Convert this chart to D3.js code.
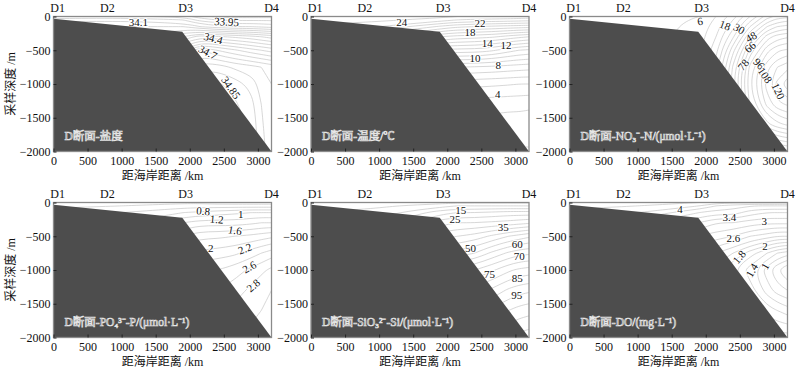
<!DOCTYPE html>
<html>
<head>
<meta charset="utf-8">
<script src="https://cdn.jsdelivr.net/npm/d3@7"></script>
<style>
  body { margin: 0; background: #fff; }
  text { font-family: "Liberation Serif", "Noto Sans CJK SC", serif; }
</style>
</head>
<body>
<svg id="chart" width="800" height="374"></svg>
<script>
// stations, axes, seabed
const stationNames = ["D1", "D2", "D3", "D4"];
const stationKm = [60, 790, 1940, 3200];
const xTicks = [0, 500, 1000, 1500, 2000, 2500, 3000];
const yTicks = [0, 500, 1000, 1500, 2000];
const seabedKm = [0, 1890, 3200];
const seabedDepth = [35, 225, 2000];

// grid the contours are traced on (columns = km, rows = depth m)
const gridKm = [0, 1000, 1900, 2150, 2400, 2650, 2900, 3050, 3200];
const gridDepth = [0, 50, 150, 300, 500, 750, 1000, 1300, 1600, 2000];

// salinity
const salinityGrid = [
    [34.00, 34.02, 33.98, 33.92, 33.89, 33.88, 33.88, 33.88, 33.88],
    [34.08, 34.09, 34.05, 33.98, 33.95, 33.94, 33.94, 33.94, 33.94],
    [34.15, 34.15, 34.15, 34.10, 34.07, 34.05, 34.05, 34.04, 34.03],
    [34.20, 34.20, 34.30, 34.38, 34.36, 34.34, 34.32, 34.30, 34.28],
    [34.30, 34.30, 34.50, 34.65, 34.60, 34.56, 34.52, 34.50, 34.48],
    [34.50, 34.50, 34.70, 34.78, 34.78, 34.74, 34.72, 34.70, 34.68],
    [34.60, 34.60, 34.80, 34.85, 34.86, 34.83, 34.78, 34.73, 34.70],
    [34.70, 34.70, 34.85, 34.87, 34.88, 34.86, 34.82, 34.75, 34.71],
    [34.75, 34.75, 34.87, 34.88, 34.88, 34.87, 34.84, 34.76, 34.71],
    [34.80, 34.80, 34.88, 34.88, 34.88, 34.87, 34.85, 34.77, 34.72]
];
const salinityLevels = [33.9, 33.95, 34, 34.05, 34.1, 34.15, 34.2, 34.25, 34.3, 34.35,
    34.4, 34.45, 34.5, 34.55, 34.6, 34.65, 34.7, 34.75, 34.8, 34.85];
const salinityLabels = [["34.1", 1245, 77, 0], ["33.95", 2542, 77, 3], ["34.4", 2346, 323, 15],
    ["34.7", 2265, 530, 28], ["34.85", 2605, 1055, 55]];

// temperature
const temperatureGrid = [
    [25.0, 24.8, 24.3, 24.0, 23.9, 23.8, 23.8, 23.7, 23.6],
    [24.6, 24.3, 23.5, 23.0, 22.8, 22.7, 22.6, 22.5, 22.4],
    [23.8, 23.0, 20.8, 20.2, 20.0, 19.8, 19.6, 19.5, 19.4],
    [22.0, 20.0, 17.0, 16.6, 16.4, 16.2, 15.6, 15.3, 15.0],
    [20.0, 16.0, 12.8, 12.6, 12.6, 12.2, 11.4, 11.0, 10.8],
    [17.0, 12.0, 8.2, 8.0, 7.9, 7.8, 7.6, 7.5, 7.4],
    [14.0, 9.0, 5.6, 5.4, 5.3, 5.2, 5.1, 5.0, 5.0],
    [11.0, 6.0, 3.6, 3.5, 3.4, 3.4, 3.3, 3.3, 3.2],
    [8.0, 4.0, 2.8, 2.7, 2.6, 2.6, 2.5, 2.5, 2.5],
    [6.0, 3.0, 2.2, 2.1, 2.0, 2.0, 1.9, 1.9, 1.9]
];
const temperatureLevels = [2, 3, 4, 5, 6, 7, 8, 9, 10, 11, 12, 13, 14, 15, 16, 17, 18,
    19, 20, 21, 22, 23, 24, 25];
const temperatureLabels = [["24", 1331, 77, 0], ["22", 2481, 92, 0], ["18", 2334, 234, 0],
    ["14", 2588, 397, 0], ["12", 2862, 422, 0], ["10", 2407, 619, 0], ["8", 2749, 719, 0],
    ["4", 2741, 1153, 0]];

// nitrate
const nitrateGrid = [
    [0.5, 1, 6, 12, 21, 36, 51, 56, 58],
    [0.5, 1, 7, 13, 24, 40, 56, 62, 64],
    [1, 2, 8, 15, 28, 48, 66, 72, 74],
    [1, 2, 9, 18, 35, 60, 81, 87, 89],
    [1, 3, 10, 22, 46, 74, 94, 101, 103],
    [1, 3, 12, 27, 55, 86, 106, 114, 118],
    [1, 3, 13, 28, 58, 89, 111, 122, 130],
    [1, 3, 12, 27, 53, 85, 104, 112, 115],
    [1, 3, 10, 20, 41, 70, 88, 94, 97],
    [1, 2, 6, 12, 21, 36, 51, 56, 58]
];
const nitrateLevels = [6, 12, 18, 24, 30, 36, 42, 48, 54, 60, 66, 72, 78, 84, 90, 96,
    102, 108, 114, 120, 126];
const nitrateLabels = [["6", 1915, 71, -10], ["18", 2283, 130, 20], ["30", 2492, 181, 30],
    ["48", 2664, 304, -30], ["66", 2650, 452, -40], ["78", 2551, 714, -50],
    ["96", 2782, 699, 45], ["108", 2870, 871, 55], ["120", 3065, 1104, 65]];

// phosphate
const phosphateGrid = [
    [0.30, 0.30, 0.35, 0.35, 0.30, 0.30, 0.30, 0.30, 0.30],
    [0.35, 0.40, 0.50, 0.50, 0.50, 0.50, 0.50, 0.50, 0.50],
    [0.50, 0.60, 0.80, 0.85, 0.90, 0.95, 1.00, 1.00, 1.00],
    [0.70, 0.80, 1.20, 1.30, 1.30, 1.30, 1.35, 1.40, 1.40],
    [0.90, 1.00, 1.60, 1.75, 1.75, 1.80, 1.85, 1.90, 1.95],
    [1.10, 1.20, 2.00, 2.05, 2.10, 2.15, 2.30, 2.40, 2.50],
    [1.30, 1.40, 2.30, 2.35, 2.40, 2.50, 2.65, 2.75, 2.85],
    [1.50, 1.60, 2.50, 2.55, 2.60, 2.70, 2.85, 2.95, 3.00],
    [1.70, 1.80, 2.70, 2.75, 2.80, 2.85, 2.95, 3.00, 3.05],
    [1.90, 2.00, 2.90, 2.90, 2.95, 3.00, 3.05, 3.10, 3.10]
];
const phosphateLevels = [0.4, 0.6, 0.8, 1, 1.2, 1.4, 1.6, 1.8, 2, 2.2, 2.4, 2.6, 2.8, 3];
const phosphateLabels = [["0.8", 2199, 126, 5], ["1.2", 2396, 249, 5], ["1", 2748, 166, 0],
    ["1.6", 2664, 412, 10], ["2", 2308, 670, 0], ["2.2", 2811, 684, -20],
    ["2.6", 2874, 956, -30], ["2.8", 2933, 1227, -40]];

// silicate
const silicateGrid = [
    [2, 2, 3, 4, 4, 4, 4, 4, 4],
    [3, 4, 8, 10, 10, 10, 10, 10, 10],
    [5, 7, 18, 20, 20, 21, 22, 22, 22],
    [8, 12, 28, 30, 30, 31, 32, 33, 34],
    [12, 18, 38, 40, 42, 46, 50, 52, 54],
    [16, 24, 50, 52, 55, 61, 66, 68, 69],
    [20, 30, 64, 67, 70, 74, 79, 81, 82],
    [24, 36, 76, 79, 82, 86, 91, 93, 94],
    [28, 42, 86, 89, 92, 96, 100, 102, 103],
    [32, 48, 96, 99, 102, 106, 110, 112, 113]
];
const silicateLevels = [5, 10, 15, 20, 25, 30, 35, 40, 45, 50, 55, 60, 65, 70, 75, 80,
    85, 90, 95, 100, 105, 110];
const silicateLabels = [["15", 2197, 107, 0], ["25", 2114, 249, 0], ["35", 2823, 363, 0],
    ["50", 2340, 670, 0], ["60", 3028, 610, 0], ["70", 3058, 793, 0], ["75", 2620, 1064, 0],
    ["85", 3028, 1119, 0], ["95", 3019, 1375, 0]];

// dissolved oxygen
const oxygenGrid = [
    [4.4, 4.3, 4.2, 4.1, 4.05, 4.05, 4.05, 4.05, 4.05],
    [4.3, 4.2, 4.0, 3.8, 3.7, 3.6, 3.6, 3.6, 3.6],
    [4.1, 4.0, 3.6, 3.5, 3.5, 3.3, 3.2, 3.2, 3.2],
    [3.8, 3.7, 3.2, 3.0, 3.0, 2.9, 2.85, 2.85, 2.85],
    [3.4, 3.3, 2.8, 2.7, 2.6, 2.4, 2.3, 2.2, 2.2],
    [3.0, 2.9, 2.4, 2.2, 2.0, 1.7, 1.4, 1.2, 1.1],
    [2.6, 2.5, 2.2, 1.9, 1.6, 1.3, 0.9, 0.6, 0.4],
    [2.6, 2.5, 2.3, 2.1, 1.8, 1.5, 1.1, 0.9, 0.8],
    [2.7, 2.6, 2.5, 2.3, 2.1, 1.8, 1.5, 1.4, 1.3],
    [2.8, 2.7, 2.7, 2.6, 2.4, 2.2, 2.0, 1.9, 1.9]
];
const oxygenLevels = [0.6, 0.8, 1, 1.2, 1.4, 1.6, 1.8, 2, 2.2, 2.4, 2.6, 2.8, 3, 3.2, 3.4,
    3.6, 3.8, 4, 4.2];
const oxygenLabels = [["4", 1622, 92, 0], ["3.4", 2346, 215, 0], ["3", 2859, 279, 0],
    ["2.6", 2404, 521, 0], ["2", 2870, 649, 0], ["1.8", 2490, 807, -50],
    ["1.4", 2675, 1004, -60], ["1", 2870, 945, -60]];

const panels = [
    {title: "D断面-盐度", grid: salinityGrid, levels: salinityLevels, labels: salinityLabels},
    {title: "D断面-温度/℃", grid: temperatureGrid, levels: temperatureLevels, labels: temperatureLabels},
    {title: "D断面-NO₃⁻-N/(μmol·L⁻¹)", grid: nitrateGrid, levels: nitrateLevels, labels: nitrateLabels},
    {title: "D断面-PO₄³⁻-P/(μmol·L⁻¹)", grid: phosphateGrid, levels: phosphateLevels, labels: phosphateLabels},
    {title: "D断面-SiO₃²⁻-Si/(μmol·L⁻¹)", grid: silicateGrid, levels: silicateLevels, labels: silicateLabels},
    {title: "D断面-DO/(mg·L⁻¹)", grid: oxygenGrid, levels: oxygenLevels, labels: oxygenLabels}
];

// layout
const colLeft = [53.5, 311, 569.5],
    rowTop = [16.5, 202.5],
    width = 218,
    height = 135;

const svg = d3.select("#chart");

// trace the iso-lines with d3.contours and cut off the pieces running along the grid border
function contourLines(grid, levels) {
    const nx = gridKm.length, ny = gridDepth.length;
    const ix = d3.scaleLinear().domain(d3.range(nx)).range(gridKm).clamp(true);
    const iy = d3.scaleLinear().domain(d3.range(ny)).range(gridDepth).clamp(true);
    const onBorder = (a, b) =>
        (a[0] === b[0] && (a[0] === 0 || a[0] === nx - 1)) ||
        (a[1] === b[1] && (a[1] === 0 || a[1] === ny - 1));
    const out = [];
    const sets = d3.contours().size([nx, ny]).thresholds(levels)(grid.flat());
    sets.forEach(set => set.coordinates.forEach(poly => poly.forEach(ring => {
        const pts = ring.map(p => [Math.min(Math.max(p[0] - 0.5, 0), nx - 1),
                                   Math.min(Math.max(p[1] - 0.5, 0), ny - 1)]);
        const parts = [];
        let cur = null, cut = false;
        for (let k = 0; k < pts.length - 1; k++) {
            if (onBorder(pts[k], pts[k + 1])) { cur = null; cut = true; continue; }
            if (!cur) { cur = [pts[k]]; parts.push(cur); }
            cur.push(pts[k + 1]);
        }
        // join the piece that wraps round the ring start
        if (cut && parts.length > 1 && !onBorder(pts[0], pts[1]) &&
            !onBorder(pts[pts.length - 2], pts[pts.length - 1])) {
            const last = parts.pop();
            parts[0] = last.concat(parts[0].slice(1));
        }
        parts.forEach(s => out.push({
            closed: !cut,
            points: (cut ? s : s.slice(0, -1)).map(q => [ix(q[0]), iy(q[1])])
        }));
    })));
    return out;
}

panels.forEach((p, i) => {
    const left = colLeft[i % 3],
        top = rowTop[Math.floor(i / 3)],
        bottom = top + height;

    const x = d3.scaleLinear().domain([0, 3200]).range([left, left + width]);
    const y = d3.scaleLinear().domain([0, 2000]).range([top, bottom]);

    const g = svg.append("g");

    g.append("clipPath")
        .attr("id", "clip" + i)
        .append("rect")
        .attr("x", left).attr("y", top)
        .attr("width", width).attr("height", height);

    // iso-lines
    const open = d3.line().curve(d3.curveBasis).x(d => x(d[0])).y(d => y(d[1]));
    const closed = d3.line().curve(d3.curveBasisClosed).x(d => x(d[0])).y(d => y(d[1]));
    g.append("g")
        .attr("clip-path", "url(#clip" + i + ")")
        .selectAll("path")
        .data(contourLines(p.grid, p.levels))
        .enter()
        .append("path")
        .attr("d", d => (d.closed ? closed : open)(d.points))
        .attr("fill", "none")
        .attr("stroke", "#c6c6c6")
        .attr("stroke-width", 0.7);

    // iso-line labels (drawn before the seabed so halos never bite into it)
    g.selectAll(".label")
        .data(p.labels)
        .enter()
        .append("text")
        .attr("transform", d => "translate(" + x(d[1]) + "," + y(d[2]) + ") rotate(" + d[3] + ")")
        .attr("dy", "0.35em")
        .attr("text-anchor", "middle")
        .attr("font-size", 11)
        .attr("fill", "#111")
        .attr("stroke", "#fff")
        .attr("stroke-width", 2)
        .attr("paint-order", "stroke")
        .text(d => d[0]);

    // seabed
    const seabed = seabedKm.map((k, j) => [k, seabedDepth[j]]);
    seabed.push([3200, 2000], [0, 2000]);
    g.append("path")
        .attr("d", d3.line().x(d => x(d[0])).y(d => y(d[1]))(seabed) + "Z")
        .attr("fill", "#4d4d4d");

    // frame
    g.append("rect")
        .attr("x", left).attr("y", top)
        .attr("width", width).attr("height", height)
        .attr("fill", "none")
        .attr("stroke", "#8a8a8a")
        .attr("stroke-width", 1.3);

    // axes with inward ticks
    const xAxis = g.append("g")
        .attr("transform", "translate(0," + bottom + ")")
        .call(d3.axisBottom(x).tickValues(xTicks).tickSize(-3).tickSizeOuter(0).tickPadding(5)
            .tickFormat(d3.format("d")));
    const yAxis = g.append("g")
        .attr("transform", "translate(" + left + ",0)")
        .call(d3.axisLeft(y).tickValues(yTicks).tickSize(-3).tickSizeOuter(0).tickPadding(3)
            .tickFormat(d => d === 0 ? "0" : "\u2212" + d));
    [xAxis, yAxis].forEach(a => {
        a.select(".domain").remove();
        a.selectAll("line").attr("stroke", "#222");
        a.selectAll("text")
            .attr("font-family", "Liberation Serif")
            .attr("font-size", 12)
            .attr("fill", "#111");
    });

    // station names
    g.selectAll(".station")
        .data(stationNames)
        .enter()
        .append("text")
        .attr("x", (d, j) => x(stationKm[j]))
        .attr("y", top - 5)
        .attr("text-anchor", "middle")
        .attr("font-size", 12)
        .attr("fill", "#111")
        .text(d => d);

    // axis titles
    g.append("text")
        .attr("x", left + width / 2)
        .attr("y", bottom + 28)
        .attr("text-anchor", "middle")
        .attr("font-size", 12)
        .attr("fill", "#111")
        .text("距海岸距离 /km");
    if (i % 3 === 0) {
        g.append("text")
            .attr("transform", "translate(15," + (top + height / 2) + ") rotate(-90)")
            .attr("text-anchor", "middle")
            .attr("font-size", 12)
            .attr("fill", "#111")
            .text("采样深度 /m");
    }

    // panel title, hollow lettering on the seabed
    g.append("text")
        .attr("x", left + 11)
        .attr("y", bottom - 12)
        .attr("font-size", 11.5)
        .attr("fill", "#4d4d4d")
        .attr("stroke", "#e6e6e6")
        .attr("stroke-width", 0.7)
        .text(p.title);
});
</script>
</body>
</html>
